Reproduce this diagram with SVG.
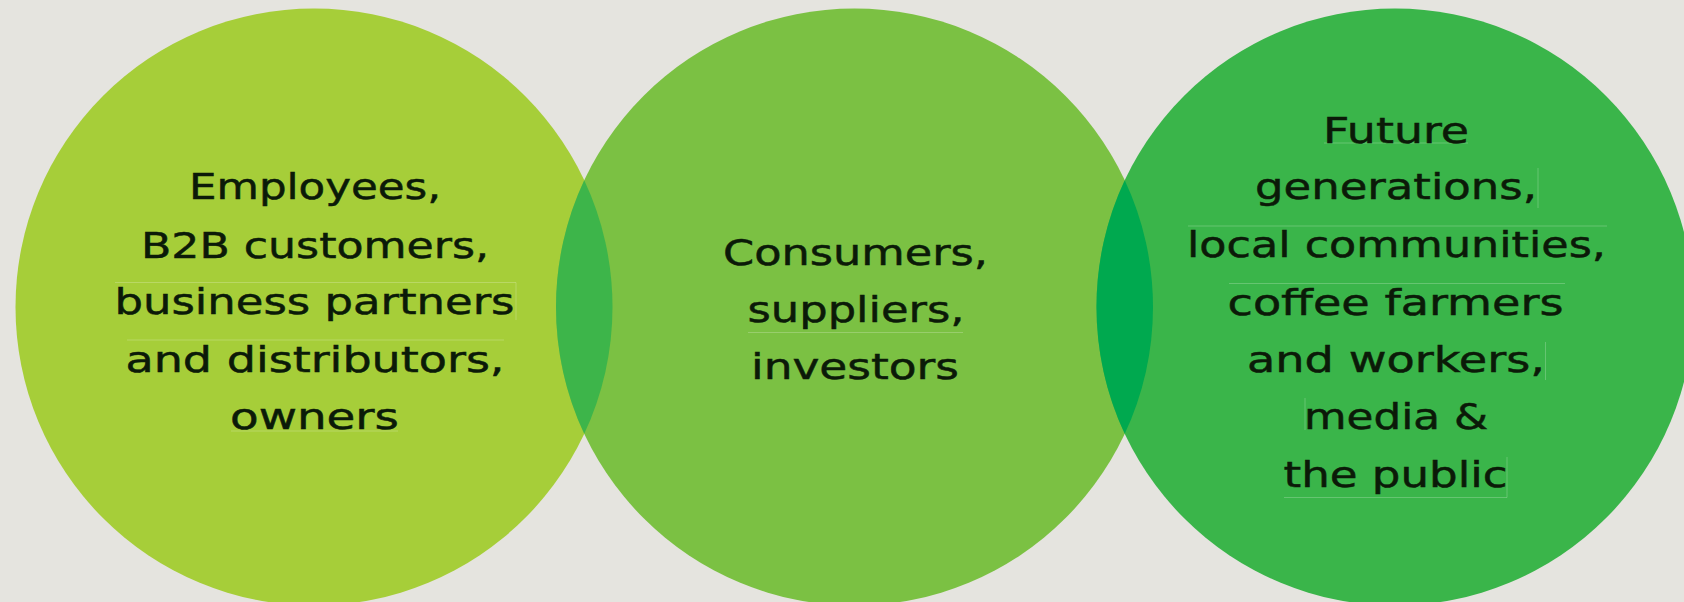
<svg xmlns="http://www.w3.org/2000/svg" width="1684" height="602" viewBox="0 0 1684 602">
  <style>
    .lbl { font-family: "DejaVu Sans", "Open Sans", sans-serif; font-size: 36px; fill: #0B1A08; stroke: #0B1A08; stroke-width: 0.5; text-anchor: middle; }
    .art { stroke: #FFFFFF; stroke-opacity: 0.22; stroke-width: 1; fill: none; }
  </style>
  <rect x="0" y="0" width="1684" height="602" fill="#E5E4DF"/>

  <g id="circle-left">
    <circle cx="314" cy="307" r="298.5" fill="#A6CE39"/>
  </g>
  <g id="circle-middle">
    <circle cx="854.5" cy="307" r="298.5" fill="#7BC143"/>
  </g>
  <g id="circle-right">
    <circle cx="1395" cy="307" r="298.5" fill="#3AB54A"/>
  </g>

  <g id="overlaps">
    <path d="M584.25,180.24 A298.5,298.5 0 0 1 584.25,433.76 A298.5,298.5 0 0 1 584.25,180.24 Z" fill="#3DB54A"/>
    <path d="M1124.75,180.24 A298.5,298.5 0 0 1 1124.75,433.76 A298.5,298.5 0 0 1 1124.75,180.24 Z" fill="#00A94F"/>
  </g>

  <g id="artifacts">
    <line class="art" x1="127" y1="340" x2="504" y2="340"/>
    <path class="art" d="M115,282.5 H516 V320"/>
    <line class="art" x1="231" y1="431" x2="398" y2="431"/>
    <line class="art" x1="748" y1="332.5" x2="963" y2="332.5"/>
    <line class="art" x1="1324" y1="143" x2="1468" y2="143"/>
    <line class="art" x1="1538" y1="168" x2="1538" y2="208"/>
    <line class="art" x1="1188" y1="226" x2="1607" y2="226"/>
    <line class="art" x1="1229" y1="283.5" x2="1565" y2="283.5"/>
    <line class="art" x1="1545.5" y1="342" x2="1545.5" y2="380"/>
    <line class="art" x1="1305" y1="398" x2="1305" y2="430"/>
    <path class="art" d="M1284,497.5 H1507 V457"/>
  </g>

  <g id="text-left">
    <text class="lbl" x="315" y="199" textLength="252" lengthAdjust="spacingAndGlyphs">Employees,</text>
    <text class="lbl" x="315" y="257.5" textLength="348" lengthAdjust="spacingAndGlyphs">B2B customers,</text>
    <text class="lbl" x="314.5" y="314" textLength="400" lengthAdjust="spacingAndGlyphs">business partners</text>
    <text class="lbl" x="315" y="371.5" textLength="379" lengthAdjust="spacingAndGlyphs">and distributors,</text>
    <text class="lbl" x="314.5" y="429" textLength="169" lengthAdjust="spacingAndGlyphs">owners</text>
  </g>

  <g id="text-middle">
    <text class="lbl" x="855.5" y="265" textLength="265" lengthAdjust="spacingAndGlyphs">Consumers,</text>
    <text class="lbl" x="856" y="321.5" textLength="217" lengthAdjust="spacingAndGlyphs">suppliers,</text>
    <text class="lbl" x="855" y="379" textLength="208" lengthAdjust="spacingAndGlyphs">investors</text>
  </g>

  <g id="text-right">
    <text class="lbl" x="1396" y="142.5" textLength="146" lengthAdjust="spacingAndGlyphs">Future</text>
    <text class="lbl" x="1396" y="199" textLength="282" lengthAdjust="spacingAndGlyphs">generations,</text>
    <text class="lbl" x="1396.5" y="256.5" textLength="419" lengthAdjust="spacingAndGlyphs">local communities,</text>
    <text class="lbl" x="1395.5" y="315" textLength="336" lengthAdjust="spacingAndGlyphs">coffee farmers</text>
    <text class="lbl" x="1396" y="371.5" textLength="298" lengthAdjust="spacingAndGlyphs">and workers,</text>
    <text class="lbl" x="1396" y="429" textLength="184" lengthAdjust="spacingAndGlyphs">media &amp;</text>
    <text class="lbl" x="1395.5" y="486.5" textLength="224" lengthAdjust="spacingAndGlyphs">the public</text>
  </g>
</svg>
